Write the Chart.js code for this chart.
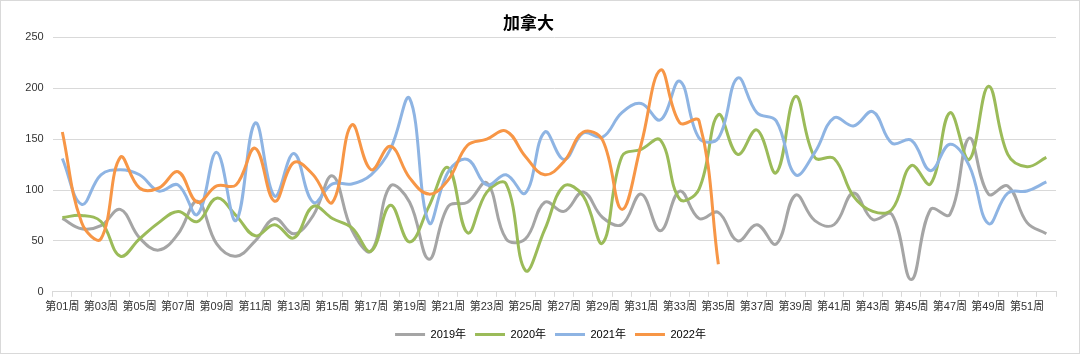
<!DOCTYPE html>
<html>
<head>
<meta charset="utf-8">
<script src="https://cdn.jsdelivr.net/npm/chart.js@4.4.0/dist/chart.umd.min.js"></script>
<style>
body{margin:0;background:#fff;}
#cadre{width:1080px;height:354px;box-sizing:border-box;border:1px solid #D9D9D9;background:#fff;}
canvas{display:block;}
</style>
</head>
<body>
<div id="cadre"><canvas id="graphe" width="1078" height="352"></canvas></div>
<script>
// données

var semaines = [];
for (let i = 1; i <= 52; i++) {
    semaines.push("第" + (i < 10 ? "0" + i : i) + "周");
}

var annees = ["2019年", "2020年", "2021年", "2022年"];

var v2019 = [72,62,65,81,53,41,57,89,47,35,50,72,57,75,114,61,40,104,88,32,84,88,107,52,52,88,79,98,73,66,96,60,99,72,78,50,66,47,95,70,66,97,71,76,12,81,76,151,96,104,68,57];
var v2020 = [73,75,69,35,52,68,79,69,92,75,55,66,53,84,72,63,40,85,49,84,122,58,98,106,21,61,104,94,48,133,140,149,91,101,174,135,159,117,192,132,131,94,79,81,124,106,176,130,202,135,123,132];
var v2021 = [131,86,115,120,115,99,105,76,137,70,166,94,136,88,106,106,115,140,190,68,118,130,105,115,97,157,130,156,152,176,185,169,207,151,151,210,176,168,115,137,171,163,177,146,149,119,145,124,67,97,99,108];
var v2022 = [157,68,52,132,102,102,118,88,104,105,141,89,127,115,88,164,120,143,112,96,110,144,150,158,133,115,128,157,149,81,145,218,166,168,27];

var couleurs = ["#A5A5A5", "#9BBB59", "#8EB4E3", "#F79646"];

var yTicks = [0, 50, 100, 150, 200, 250];

var police = "'Liberation Sans', 'Noto Sans CJK SC', sans-serif";

function serie(i, valeurs) {
    return {
        label: annees[i],
        data: valeurs,
        borderColor: couleurs[i],
        backgroundColor: couleurs[i],
        borderWidth: 3,
        pointRadius: 0,
        pointHoverRadius: 0,
        tension: 0.4,
        fill: false,
        order: 4 - i
    };
}

// décale la légende vers la droite comme dans l'original
var decalageLegende = {
    id: "decalageLegende",
    afterLayout: function(c) {
        c.legend.left += 22;
        c.legend.right += 22;
    }
};

var chart = new Chart(document.getElementById("graphe"), {
    type: "line",
    data: {
        labels: semaines,
        datasets: [serie(0, v2019), serie(1, v2020), serie(2, v2021), serie(3, v2022)]
    },
    plugins: [decalageLegende],
    options: {
        responsive: false,
        animation: false,
        layout: {padding: {left: 0, right: 23, top: 0, bottom: 3}},
        plugins: {
            title: {
                display: true,
                text: "加拿大",
                color: "#000",
                font: {family: police, size: 17, weight: "bold"},
                padding: {top: 13, bottom: 3}
            },
            legend: {
                position: "bottom",
                labels: {
                    color: "#404040",
                    font: {family: police, size: 11},
                    boxWidth: 30,
                    boxHeight: 3,
                    padding: 9,
                    generateLabels: function(c) {
                        return c.data.datasets.map(function(d, i) {
                            return {text: d.label, fillStyle: d.borderColor, strokeStyle: d.borderColor, lineWidth: 0, datasetIndex: i, hidden: false};
                        });
                    }
                }
            },
            tooltip: {enabled: false}
        },
        scales: {
            x: {
                offset: true,
                afterFit: function(s) { s.height += 2; },
                grid: {offset: true, drawOnChartArea: false, drawTicks: true, tickLength: 5, color: "#D9D9D9"},
                border: {display: true, color: "#D9D9D9"},
                ticks: {
                    autoSkip: false,
                    maxRotation: 0,
                    minRotation: 0,
                    padding: 4,
                    color: "#333",
                    font: {family: police, size: 11},
                    callback: function(val, idx) {
                        return idx % 2 === 0 ? semaines[idx] : "";
                    }
                }
            },
            y: {
                min: 0,
                max: 250,
                afterBuildTicks: function(s) {
                    s.ticks = yTicks.map(function(v) { return {value: v}; });
                },
                afterFit: function(s) { s.width = 51.7; },
                grid: {drawTicks: false, color: "#D9D9D9"},
                border: {display: false},
                ticks: {padding: 9, color: "#333", font: {family: police, size: 11}}
            }
        }
    }
});
</script>
</body>
</html>
